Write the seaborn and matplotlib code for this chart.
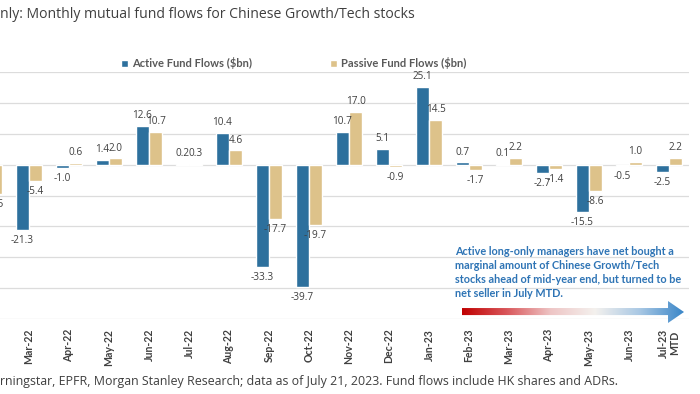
import numpy as np
import pandas as pd
import matplotlib.pyplot as plt
import seaborn as sns
from matplotlib.colors import LinearSegmentedColormap
from matplotlib.patches import Polygon

# values ($bn); Feb-22 active bar is cut off at the left edge
months = ['Feb-22', 'Mar-22', 'Apr-22', 'May-22', 'Jun-22', 'Jul-22', 'Aug-22', 'Sep-22',
          'Oct-22', 'Nov-22', 'Dec-22', 'Jan-23', 'Feb-23', 'Mar-23', 'Apr-23', 'May-23',
          'Jun-23', 'Jul-23\nMTD']
active = [np.nan, -21.3, -1.0, 1.4, 12.6, 0.2, 10.4, -33.3, -39.7, 10.7, 5.1, 25.1,
          0.7, 0.1, -2.7, -15.5, -0.5, -2.5]
passive = [-9.5, -5.4, 0.6, 2.0, 10.7, 0.3, 4.6, -17.7, -19.7, 17.0, -0.9, 14.5,
           -1.7, 2.2, -1.4, -8.6, 1.0, 2.2]
series = ['Active Fund Flows ($bn)', 'Passive Fund Flows ($bn)']

df = pd.concat([
    pd.DataFrame({'month': months, 'flow': active, 'type': series[0]}),
    pd.DataFrame({'month': months, 'flow': passive, 'type': series[1]}),
], ignore_index=True)

sns.set_theme(style="white")
plt.rcParams['font.family'] = ['Lato', 'DejaVu Sans']

fig = plt.figure(figsize=(7, 3.94), dpi=100)
# the reference is a crop: the axes run past the left edge of the picture
ax = fig.add_axes([-31 / 700, 75 / 394, 720 / 700, 247 / 394])

sns.barplot(data=df, x='month', y='flow', hue='type', order=months, hue_order=series,
            palette=['#1a74b0', '#ebc77c'], width=0.66, errorbar=None, ax=ax)

for c in ax.containers:
    labels = ['' if np.isnan(v) else f'{v:.1f}' for v in c.datavalues]
    ax.bar_label(c, labels=labels, padding=3.5, fontsize=7.2, color='#404040',
                 family=['Open Sans', 'DejaVu Sans'])

ax.set_xlim(-0.5, len(months) - 0.5)
ax.set_ylim(-50, 30)
ax.set_yticks(range(-50, 31, 10))
ax.grid(axis='y', color='#dcdcdc', linewidth=0.9)
ax.set_axisbelow(True)
for s in ax.spines.values():
    s.set_visible(False)
ax.tick_params(axis='y', labelleft=False, length=0)
ax.tick_params(axis='x', length=0, pad=7)
ax.set_xlabel('')
ax.set_ylabel('')
ax.set_xticks(range(len(months)))
ax.set_xticklabels(months, rotation=90, fontsize=7.6, fontweight='bold', color='#404040',
                   va='top', ha='center', linespacing=0.95)

ax.legend(loc='center', bbox_to_anchor=(294 / 700, 1 - 63 / 394),
          bbox_transform=fig.transFigure, ncol=2, frameon=False,
          prop={'size': 8, 'weight': 'bold'}, labelcolor='#595959',
          handlelength=0.6, handleheight=0.6, handletextpad=0.4, columnspacing=7)

fig.text(0.0, 1 - 15 / 394, 'nly: Monthly mutual fund flows for Chinese Growth/Tech stocks',
         fontsize=10.1, color='#3f3f3f', family=['Open Sans', 'DejaVu Sans'],
         ha='left', va='center')
fig.text(0.0, 1 - 381 / 394,
         'rningstar, EPFR, Morgan Stanley Research; data as of July 21, 2023. '
         'Fund flows include HK shares and ADRs.',
         fontsize=8.9, color='#3f3f3f', family=['Open Sans', 'DejaVu Sans'],
         ha='left', va='center')

fig.text(455 / 700, 1 - 246 / 394,
         'Active long-only managers have net bought a\n'
         'marginal amount of Chinese Growth/Tech\n'
         'stocks ahead of mid-year end, but turned to be\n'
         'net seller in July MTD.',
         fontsize=7.8, fontweight='bold', color='#2e74b5', ha='left', va='top',
         linespacing=1.35)

# red-to-blue gradient arrow
arr = fig.add_axes([462 / 700, 71 / 394, 222 / 700, 22 / 394])
arr.set_axis_off()
cmap = LinearSegmentedColormap.from_list('rb', ['#c00000', '#d9565a', '#eec5c5', '#f4f1ee',
                                                '#a9c8e4', '#3a86c8'])
img = arr.imshow(np.linspace(0, 1, 256)[None, :], cmap=cmap, aspect='auto',
                 extent=[0, 1, 0, 1])
shape = Polygon([[0, 0.36], [0.928, 0.36], [0.928, 0.0], [1.0, 0.5],
                 [0.928, 1.0], [0.928, 0.68], [0, 0.68]], closed=True,
                transform=arr.transData, facecolor='none', edgecolor='none')
arr.add_patch(shape)
img.set_clip_path(shape)
arr.set_xlim(0, 1)
arr.set_ylim(0, 1)

fig.savefig('out.png', dpi=100)
